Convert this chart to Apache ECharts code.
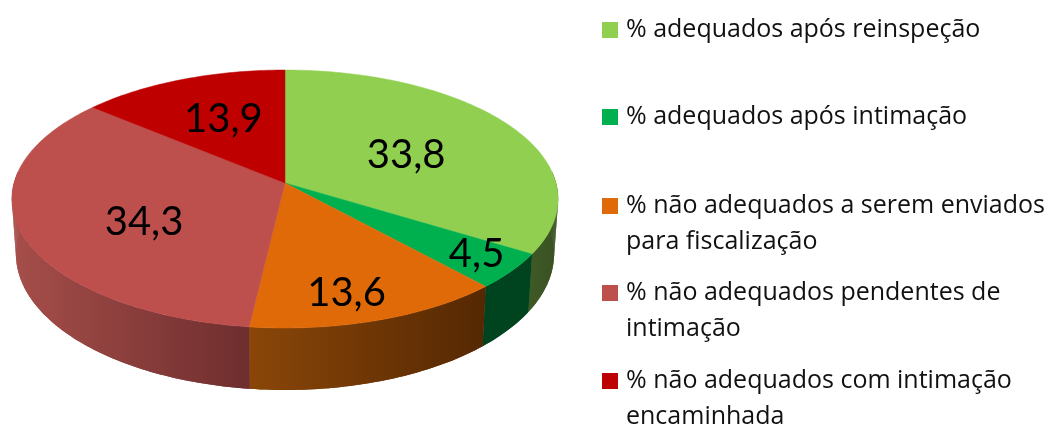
<!DOCTYPE html>
<html><head><meta charset="utf-8">
<style>html,body{margin:0;padding:0;background:#fff}#c{width:1051px;height:428px}</style>
<script src="https://cdn.jsdelivr.net/npm/echarts@6/dist/echarts.min.js"></script>
</head><body><div id="c"></div>
<script>
const categories = [
  '% adequados após reinspeção',
  '% adequados após intimação',
  '% não adequados a serem enviados\npara fiscalização',
  '% não adequados pendentes de\nintimação',
  '% não adequados com intimação\nencaminhada'
];
const values = [33.8, 4.5, 13.6, 34.3, 13.9];
const valueLabels = ['33,8', '4,5', '13,6', '34,3', '13,9'];
const topColors = ['#90CF50', '#00B04E', '#E16A08', '#BD4F4C', '#BE0000'];
const wallStart = ['#3E5A26', '#00441F', '#8A4608', '#A64E4A', '#6E2020'];
const wallEnd   = ['#3A5022', '#00441F', '#552803', '#6E2E2E', '#6E2020'];
const labelRadius = [0.513, 0.843, 0.808, 0.582, 0.589];
const labelAngleShift = [2.9, -1.3, 3.1, -8.9, 0.7];
const legendTops = [10.5, 97.5, 186.5, 273.5, 361.5];
const frontArc = [85, 275];

const total = values.reduce((a, b) => a + b, 0);
const topDisc = { x: 285, y: 183, rx: 271, ry: 127, k: 0.124 };
const baseDisc = { x: 285, y: 237, rx: 267, ry: 134, k: 0.124 };

function project(d, deg, f) {
  const a = deg * Math.PI / 180;
  const u = Math.sin(a) * f, v = -Math.cos(a) * f;
  const w = 1 - d.k * v;
  return [d.x + d.rx * u / w, d.y + d.ry * v / w];
}
function arc(d, from, to) {
  const n = Math.max(2, Math.ceil((to - from) / 1));
  const pts = [];
  for (let i = 0; i <= n; i++) pts.push(project(d, from + (to - from) * i / n, 1));
  return pts;
}
function makeRender(idx) {
  return function (params, api) {
    const before = values.slice(0, idx).reduce((a, b) => a + b, 0);
    const from = before / total * 360;
    const to = from + api.value(0) / total * 360;
    const mid = (from + to) / 2 + labelAngleShift[idx];
    const lp = project(topDisc, mid, labelRadius[idx]);
    const rimTop = arc(topDisc, from, to);
    const children = [];
    const wFrom = Math.max(from, frontArc[0]), wTo = Math.min(to, frontArc[1]);
    if (wTo > wFrom) {
      const wTop = arc(topDisc, wFrom, wTo);
      const wBase = arc(baseDisc, wFrom, wTo);
      const xs = wTop.concat(wBase).map(p => p[0]);
      const wallFill = new echarts.graphic.LinearGradient(
        Math.min.apply(null, xs), 0, Math.max.apply(null, xs), 0,
        [{ offset: 0, color: wallStart[idx] }, { offset: 1, color: wallEnd[idx] }], true);
      for (let i = 0; i + 1 < wTop.length; i++) {
        children.push({
          type: 'polygon', z2: 0,
          shape: { points: [wTop[i], wTop[i + 1], wBase[i + 1], wBase[i]] },
          style: { fill: wallFill }
        });
      }
      children.push({
        type: 'polygon', z2: 1,
        shape: { points: wTop.concat(wBase.slice().reverse()) },
        style: { fill: wallFill }
      });
    }
    children.push({
      type: 'polygon', z2: 5,
      shape: { points: [[topDisc.x, topDisc.y]].concat(rimTop) },
      style: { fill: topColors[idx], stroke: topColors[idx], lineWidth: 0.5 }
    });
    children.push({
      type: 'text', z2: 10, x: lp[0], y: lp[1],
      style: {
        text: valueLabels[idx], fill: '#000', align: 'center', verticalAlign: 'middle',
        font: '40px Lato'
      }
    });
    return { type: 'group', children };
  };
}
const series = categories.map((name, i) => ({
  type: 'custom', name, coordinateSystem: 'none', silent: true, animation: false,
  itemStyle: { color: topColors[i] },
  data: [[values[i]]],
  renderItem: makeRender(i)
}));
const legend = categories.map((name, i) => {
  const two = name.indexOf('\n') >= 0;
  return {
    data: [name], orient: 'vertical', left: 602, top: legendTops[i], padding: 0,
    selectedMode: false, itemGap: 0,
    itemWidth: 16, itemHeight: two ? 52 : 16,
    icon: two ? 'path://M0 0H16V16H0Z M0 52L0 52Z' : 'rect',
    textStyle: { fontFamily: 'Open Sans', fontSize: 25, lineHeight: 36, color: '#111', padding: [3, 0, 0, 3] }
  };
});
const chart = echarts.init(document.getElementById('c'), null, { renderer: 'canvas' });
chart.setOption({ backgroundColor: '#fff', animation: false, legend, series });
</script></body></html>
